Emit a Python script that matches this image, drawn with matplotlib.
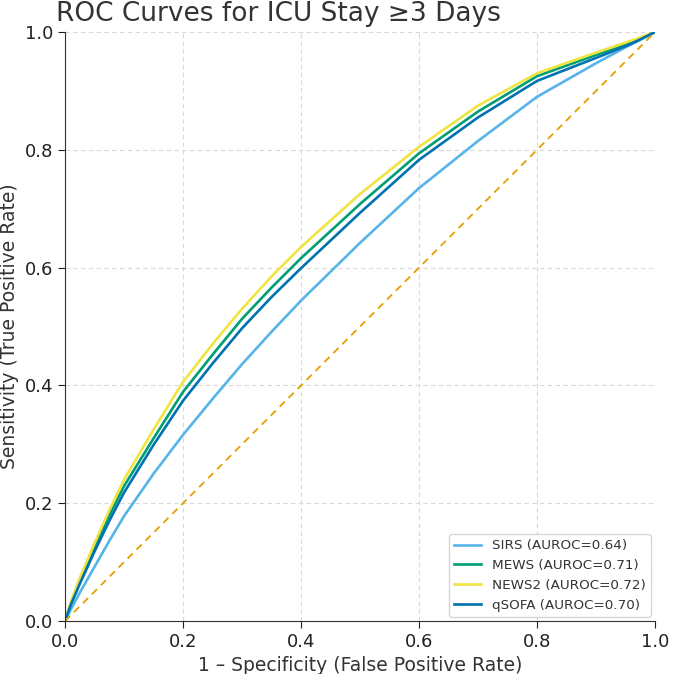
import numpy as np
import matplotlib
matplotlib.use("Agg")
import matplotlib.pyplot as plt

# False positive rate grid
fpr = [0, 0.01, 0.025, 0.05, 0.075, 0.1, 0.15, 0.2, 0.25, 0.3, 0.35, 0.4, 0.5, 0.6, 0.7, 0.8, 0.9, 0.95, 0.97, 1.0]

# Sensitivity for each score
tpr_sirs = [0, 0.02, 0.048, 0.092, 0.136, 0.178, 0.25, 0.316, 0.377, 0.436, 0.491, 0.544, 0.642, 0.735, 0.815, 0.89, 0.947, 0.974, 0.984, 1.0]
tpr_mews = [0, 0.031, 0.068, 0.125, 0.179, 0.229, 0.31, 0.389, 0.452, 0.513, 0.566, 0.616, 0.708, 0.794, 0.865, 0.925, 0.961, 0.979, 0.987, 1.0]
tpr_news2 = [0, 0.033, 0.073, 0.132, 0.188, 0.24, 0.325, 0.406, 0.47, 0.53, 0.585, 0.635, 0.725, 0.805, 0.875, 0.93, 0.965, 0.982, 0.989, 1.0]
tpr_qsofa = [0, 0.028, 0.063, 0.118, 0.17, 0.218, 0.299, 0.374, 0.437, 0.497, 0.55, 0.599, 0.693, 0.783, 0.855, 0.917, 0.956, 0.976, 0.985, 1.0]

noms = ["SIRS", "MEWS", "NEWS2", "qSOFA"]
auroc = [0.64, 0.71, 0.72, 0.70]
couleurs = ["#56B4E9", "#009E73", "#F0E442", "#0072B2"]

fig = plt.figure(figsize=(6.73, 6.74), dpi=100)
ax = fig.add_axes([0.0966, 0.0786, 0.8767, 0.8739])

for tpr, nom, a, c in zip([tpr_sirs, tpr_mews, tpr_news2, tpr_qsofa], noms, auroc, couleurs):
    ax.plot(fpr, tpr, color=c, lw=1.9, label=f"{nom} (AUROC={a:.2f})")

# Diagonale de référence
ax.plot([0, 1], [0, 1], color="#E69F00", lw=1.3, linestyle=(0, (4, 3)))

ax.set_xlim(0, 1)
ax.set_ylim(0, 1)
ax.set_xticks(np.arange(0, 1.01, 0.2))
ax.set_yticks(np.arange(0, 1.01, 0.2))
ax.grid(True, linestyle=(0, (4, 3)), color="#d8d8d8", lw=0.8)
ax.spines["top"].set_visible(False)
ax.spines["right"].set_visible(False)
ax.spines["left"].set_color("#333333")
ax.spines["bottom"].set_color("#333333")
ax.tick_params(labelsize=13, colors="#222222", length=5)

ax.set_xlabel("1 – Specificity (False Positive Rate)", fontsize=13.5, color="#333333")
ax.set_ylabel("Sensitivity (True Positive Rate)", fontsize=13.5, color="#333333")

fig.text(0.083, 0.999, "ROC Curves for ICU Stay ≥3 Days", fontsize=19, color="#333333",
         ha="left", va="top")

leg = ax.legend(loc="lower right", fontsize=9.7, frameon=True, fancybox=True, borderaxespad=0.3)
leg.get_frame().set_edgecolor("#cccccc")
for t in leg.get_texts():
    t.set_color("#333333")

fig.savefig("out.png", dpi=100)
